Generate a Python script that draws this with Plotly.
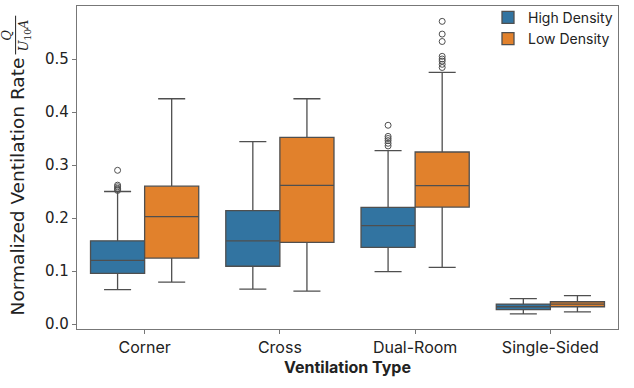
import plotly.graph_objects as go

# box statistics
categories = ["Corner", "Cross", "Dual-Room", "Single-Sided"]

high_lower = [0.065, 0.066, 0.099, 0.019]
high_q1 = [0.0955, 0.109, 0.1445, 0.027]
high_median = [0.120, 0.157, 0.1855, 0.0326]
high_q3 = [0.157, 0.214, 0.220, 0.0377]
high_upper = [0.250, 0.344, 0.327, 0.048]

low_lower = [0.079, 0.062, 0.107, 0.023]
low_q1 = [0.1245, 0.154, 0.2207, 0.0326]
low_median = [0.2025, 0.2615, 0.261, 0.0377]
low_q3 = [0.260, 0.352, 0.3245, 0.042]
low_upper = [0.425, 0.425, 0.4747, 0.0534]

high_outlier_cat = ["Corner"] * 6 + ["Dual-Room"] * 6
high_outlier_val = [0.290, 0.262, 0.259, 0.256, 0.254, 0.252,
                    0.375, 0.354, 0.350, 0.346, 0.341, 0.336]
low_outlier_cat = ["Dual-Room"] * 8
low_outlier_val = [0.571, 0.547, 0.533, 0.505, 0.500, 0.496, 0.490, 0.484]

BLUE = "#3274a1"
ORANGE = "#e1812c"
EDGE = "#4f4f4f"
SPINE = "#777777"
SANS = "Inter, Liberation Sans, sans-serif"

fig = go.Figure()

for name, color, lo, q1, med, q3, up, og in [
    ("High Density", BLUE, high_lower, high_q1, high_median, high_q3, high_upper, "high"),
    ("Low Density", ORANGE, low_lower, low_q1, low_median, low_q3, low_upper, "low"),
]:
    fig.add_trace(go.Box(
        x=categories, q1=q1, median=med, q3=q3,
        lowerfence=lo, upperfence=up,
        name=name, fillcolor=color, offsetgroup=og,
        line=dict(color=EDGE, width=1.3),
        whiskerwidth=0.5, boxpoints=False, hoverinfo="y",
    ))

# outliers
for cats, vals, og in [(high_outlier_cat, high_outlier_val, "high"),
                       (low_outlier_cat, low_outlier_val, "low")]:
    fig.add_trace(go.Scatter(
        x=cats, y=vals, mode="markers", offsetgroup=og, showlegend=False,
        marker=dict(symbol="circle-open", size=6, color=EDGE, line=dict(width=1)),
    ))

fig.update_layout(
    width=634, height=388,
    margin=dict(l=77, r=16, t=6, b=59, autoexpand=False),
    plot_bgcolor="white", paper_bgcolor="white",
    boxmode="group", boxgap=0.2, boxgroupgap=0,
    scattermode="group", scattergap=0.2,
    legend=dict(x=1.0, y=1.013, xanchor="right", yanchor="top",
                font=dict(family=SANS, size=14, color="#222"),
                bgcolor="rgba(255,255,255,0)", tracegroupgap=2, itemwidth=30),
    font=dict(family="DejaVu Sans, sans-serif", color="#222"),
)

fig.update_xaxes(
    type="category", categoryorder="array", categoryarray=categories,
    range=[-0.5, 3.5], automargin=False,
    showline=True, linecolor=SPINE, linewidth=1.2, mirror=True,
    ticks="outside", ticklen=4, tickcolor=SPINE,
    tickfont=dict(family=SANS, size=16, color="#222"),
    title=dict(text="<b>Ventilation Type</b>", standoff=4,
               font=dict(family=SANS, size=16, color="#222")),
)

fig.update_yaxes(
    range=[-0.0094, 0.6], tickvals=[0.0, 0.1, 0.2, 0.3, 0.4, 0.5], tickformat=".1f",
    showgrid=False, zeroline=False, automargin=False,
    showline=True, linecolor=SPINE, linewidth=1.2, mirror=True,
    ticks="outside", ticklen=4, tickcolor=SPINE,
    tickfont=dict(family="DejaVu Sans, sans-serif", size=15, color="#222"),
)

# y-axis label: text plus fraction Q / (U10 A)
fig.add_annotation(
    xref="paper", yref="paper", x=-0.11, y=0.443, xanchor="center", yanchor="middle",
    text="Normalized Ventilation Rate", textangle=-90, showarrow=False,
    font=dict(family="DejaVu Sans, sans-serif", size=18.5, color="#222"),
)
fig.add_annotation(
    xref="paper", yref="paper", x=-0.112, y=0.91, xanchor="center", yanchor="middle",
    text="<i>Q</i><br><i>U</i><sub>10</sub><i>A</i>", textangle=-90, showarrow=False,
    font=dict(family="DejaVu Serif, serif", size=13, color="#222"),
)
fig.add_shape(type="line", xref="paper", yref="paper",
              x0=-0.1135, x1=-0.1135, y0=0.85, y1=0.97,
              line=dict(color="#222", width=1))

fig.write_html("out.html", config={"displayModeBar": False},
               post_script="document.body.style.margin='0';")
